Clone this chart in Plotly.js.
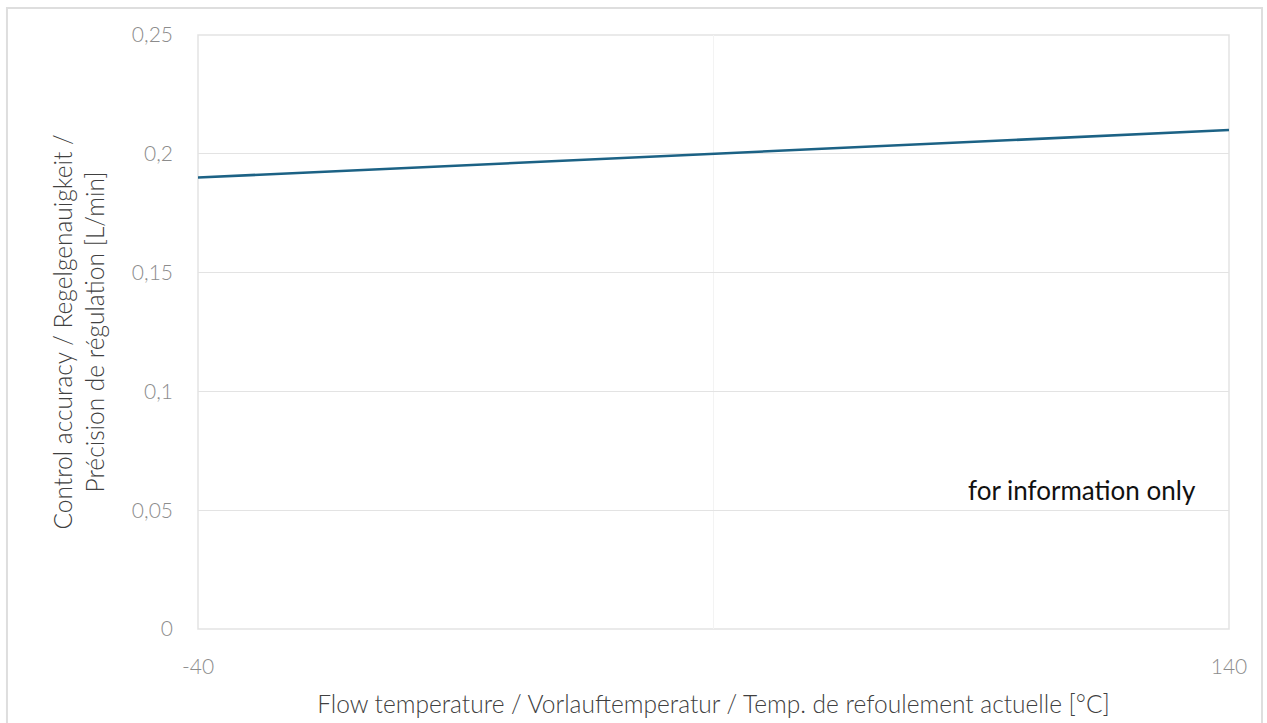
<!DOCTYPE html>
<html>
<head>
<meta charset="utf-8">
<script src="https://cdn.plot.ly/plotly-3.0.1.min.js"></script>
<style>html,body{margin:0;padding:0;background:#fff;}#chart{width:1267px;height:723px;}</style>
</head>
<body>
<div id="chart"></div>
<script>
const temperature = [-40, 140];
const accuracy = [0.19, 0.21];
const xTickVals = [-40, 50, 140];
const xTickText = ['-40', '', '140'];
const yTickVals = [0, 0.05, 0.1, 0.15, 0.2, 0.25];

const fontFam = 'Lato, "Open Sans", sans-serif';

const trace = {
  x: temperature, y: accuracy, type: 'scatter', mode: 'lines',
  line: {color: '#1c6285', width: 2.6}, hoverinfo: 'skip'
};

const layout = {
  width: 1267, height: 723,
  margin: {l: 198, r: 38, t: 35, b: 94},
  paper_bgcolor: '#fff', plot_bgcolor: '#fff',
  separators: ',.',
  showlegend: false,
  font: {family: fontFam, weight: 300, color: '#8c8c8c'},
  xaxis: {
    range: [-40, 140], tickvals: xTickVals, ticktext: xTickText,
    showgrid: true, gridcolor: '#f3f3f3', gridwidth: 1,
    showline: false, zeroline: false, ticks: '',
    ticklabelstandoff: 23,
    tickfont: {size: 21, color: '#8c8c8c', family: fontFam, weight: 300},
    title: {text: 'Flow temperature / Vorlauftemperatur / Temp. de refoulement actuelle [°C]',
            font: {size: 24.5, color: '#404040', family: fontFam, weight: 300}, standoff: 18},
    automargin: false, fixedrange: true
  },
  yaxis: {
    range: [0, 0.25], tickvals: yTickVals,
    showgrid: true, gridcolor: '#e3e3e3', gridwidth: 1,
    showline: false, zeroline: false, ticks: '',
    ticklabelstandoff: 24,
    tickfont: {size: 21, color: '#8c8c8c', family: fontFam, weight: 300},
    title: {text: 'Control accuracy / Regelgenauigkeit /<br>Précision de régulation [L/min]',
            font: {size: 24.5, color: '#404040', family: fontFam, weight: 300}, standoff: 20},
    automargin: false, fixedrange: true
  },
  shapes: [
    {type: 'rect', xref: 'paper', yref: 'paper', x0: 0, x1: 1, y0: 0, y1: 1,
     line: {color: '#e3e3e3', width: 1.5}, fillcolor: 'rgba(0,0,0,0)', layer: 'below'},
    {type: 'rect', xref: 'paper', yref: 'paper', x0: -0.1853, x1: 1.032, y0: -0.2, y1: 1.0455,
     line: {color: '#dedede', width: 2}, fillcolor: 'rgba(0,0,0,0)'}
  ],
  annotations: [
    {x: 134.6, y: 0.0585, xref: 'x', yref: 'y', xanchor: 'right', yanchor: 'middle',
     text: 'for information only', showarrow: false,
     font: {size: 26, color: '#111111', family: fontFam, weight: 400}}
  ]
};

Plotly.newPlot('chart', [trace], layout, {staticPlot: true, displayModeBar: false});
</script>
</body>
</html>
